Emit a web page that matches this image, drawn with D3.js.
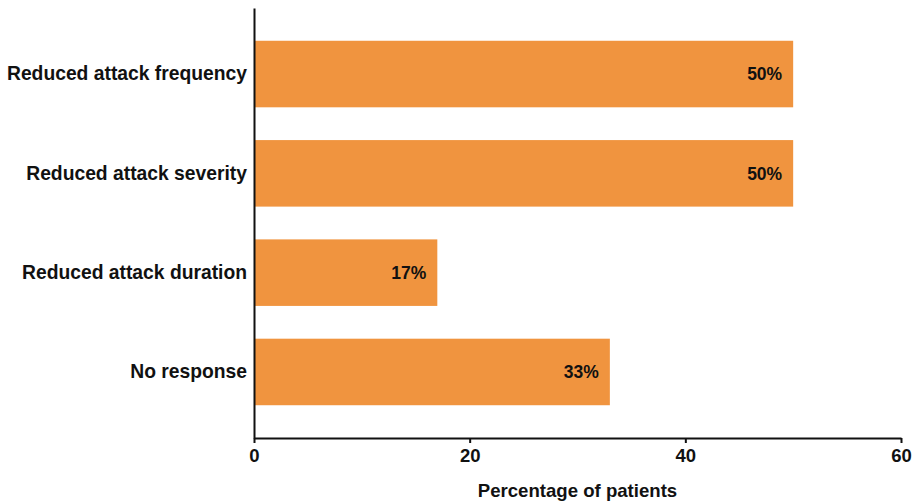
<!DOCTYPE html>
<html>
<head>
<meta charset="utf-8">
<script src="https://cdn.jsdelivr.net/npm/d3@7"></script>
<style>
  html, body { margin: 0; padding: 0; background: #fff; }
  svg { display: block; font-family: "Liberation Sans", Arial, sans-serif; }
</style>
</head>
<body>
<svg id="chart" width="920" height="502"></svg>
<script>
// Response categories and share of patients (%)
const categories = [
  "Reduced attack frequency",
  "Reduced attack severity",
  "Reduced attack duration",
  "No response"
];
const percentages = [50, 50, 17, 33];
const xTicks = [0, 20, 40, 60];
const xTitle = "Percentage of patients";

(function () {
  const svg = d3.select("#chart");
  const plotLeft = 254, plotRight = 901, plotTop = 8, plotBottom = 438;
  const barColor = "#F0943F";
  const ink = "#111";
  const font = "Liberation Sans, Arial, sans-serif";

  const x = d3.scaleLinear().domain([0, 60]).range([plotLeft, plotRight]);
  const y = d3.scaleBand().domain(categories).range([plotTop, plotBottom])
    .paddingInner(0.33).paddingOuter(0.33);

  const rows = categories.map((c, i) => ({ c, v: percentages[i] }));

  // bars
  svg.append("g").selectAll("rect").data(rows).join("rect")
    .attr("x", x(0))
    .attr("y", d => y(d.c))
    .attr("width", d => x(d.v) - x(0))
    .attr("height", y.bandwidth())
    .attr("fill", barColor);

  // value labels inside bar ends
  svg.append("g").selectAll("text").data(rows).join("text")
    .attr("x", d => x(d.v) - 11)
    .attr("y", d => y(d.c) + y.bandwidth() / 2)
    .attr("dy", "0.36em")
    .attr("text-anchor", "end")
    .attr("font-size", 17.5)
    .attr("font-weight", "bold")
    .attr("fill", ink)
    .text(d => d.v + "%");

  // x axis
  const xAxis = svg.append("g")
    .attr("transform", `translate(0,${plotBottom})`)
    .call(d3.axisBottom(x).tickValues(xTicks).tickSize(5).tickPadding(6).tickSizeOuter(0));
  xAxis.select(".domain").attr("stroke", ink).attr("stroke-width", 2);
  xAxis.selectAll(".tick line").attr("stroke", ink).attr("stroke-width", 2);
  xAxis.selectAll(".tick text")
    .attr("font-size", 18.5).attr("font-weight", "bold").attr("fill", ink)
    .attr("font-family", font);

  // y axis
  const yAxis = svg.append("g")
    .attr("transform", `translate(${plotLeft},0)`)
    .call(d3.axisLeft(y).tickSize(0).tickPadding(7).tickSizeOuter(0));
  yAxis.select(".domain").attr("stroke", ink).attr("stroke-width", 2);
  yAxis.selectAll(".tick text")
    .attr("font-size", 19.3).attr("font-weight", "bold").attr("fill", ink)
    .attr("font-family", font);

  // axis title
  svg.append("text")
    .attr("x", (plotLeft + plotRight) / 2)
    .attr("y", 497)
    .attr("text-anchor", "middle")
    .attr("font-size", 18.6)
    .attr("font-weight", "bold")
    .attr("fill", ink)
    .text(xTitle);
})();
</script>
</body>
</html>
